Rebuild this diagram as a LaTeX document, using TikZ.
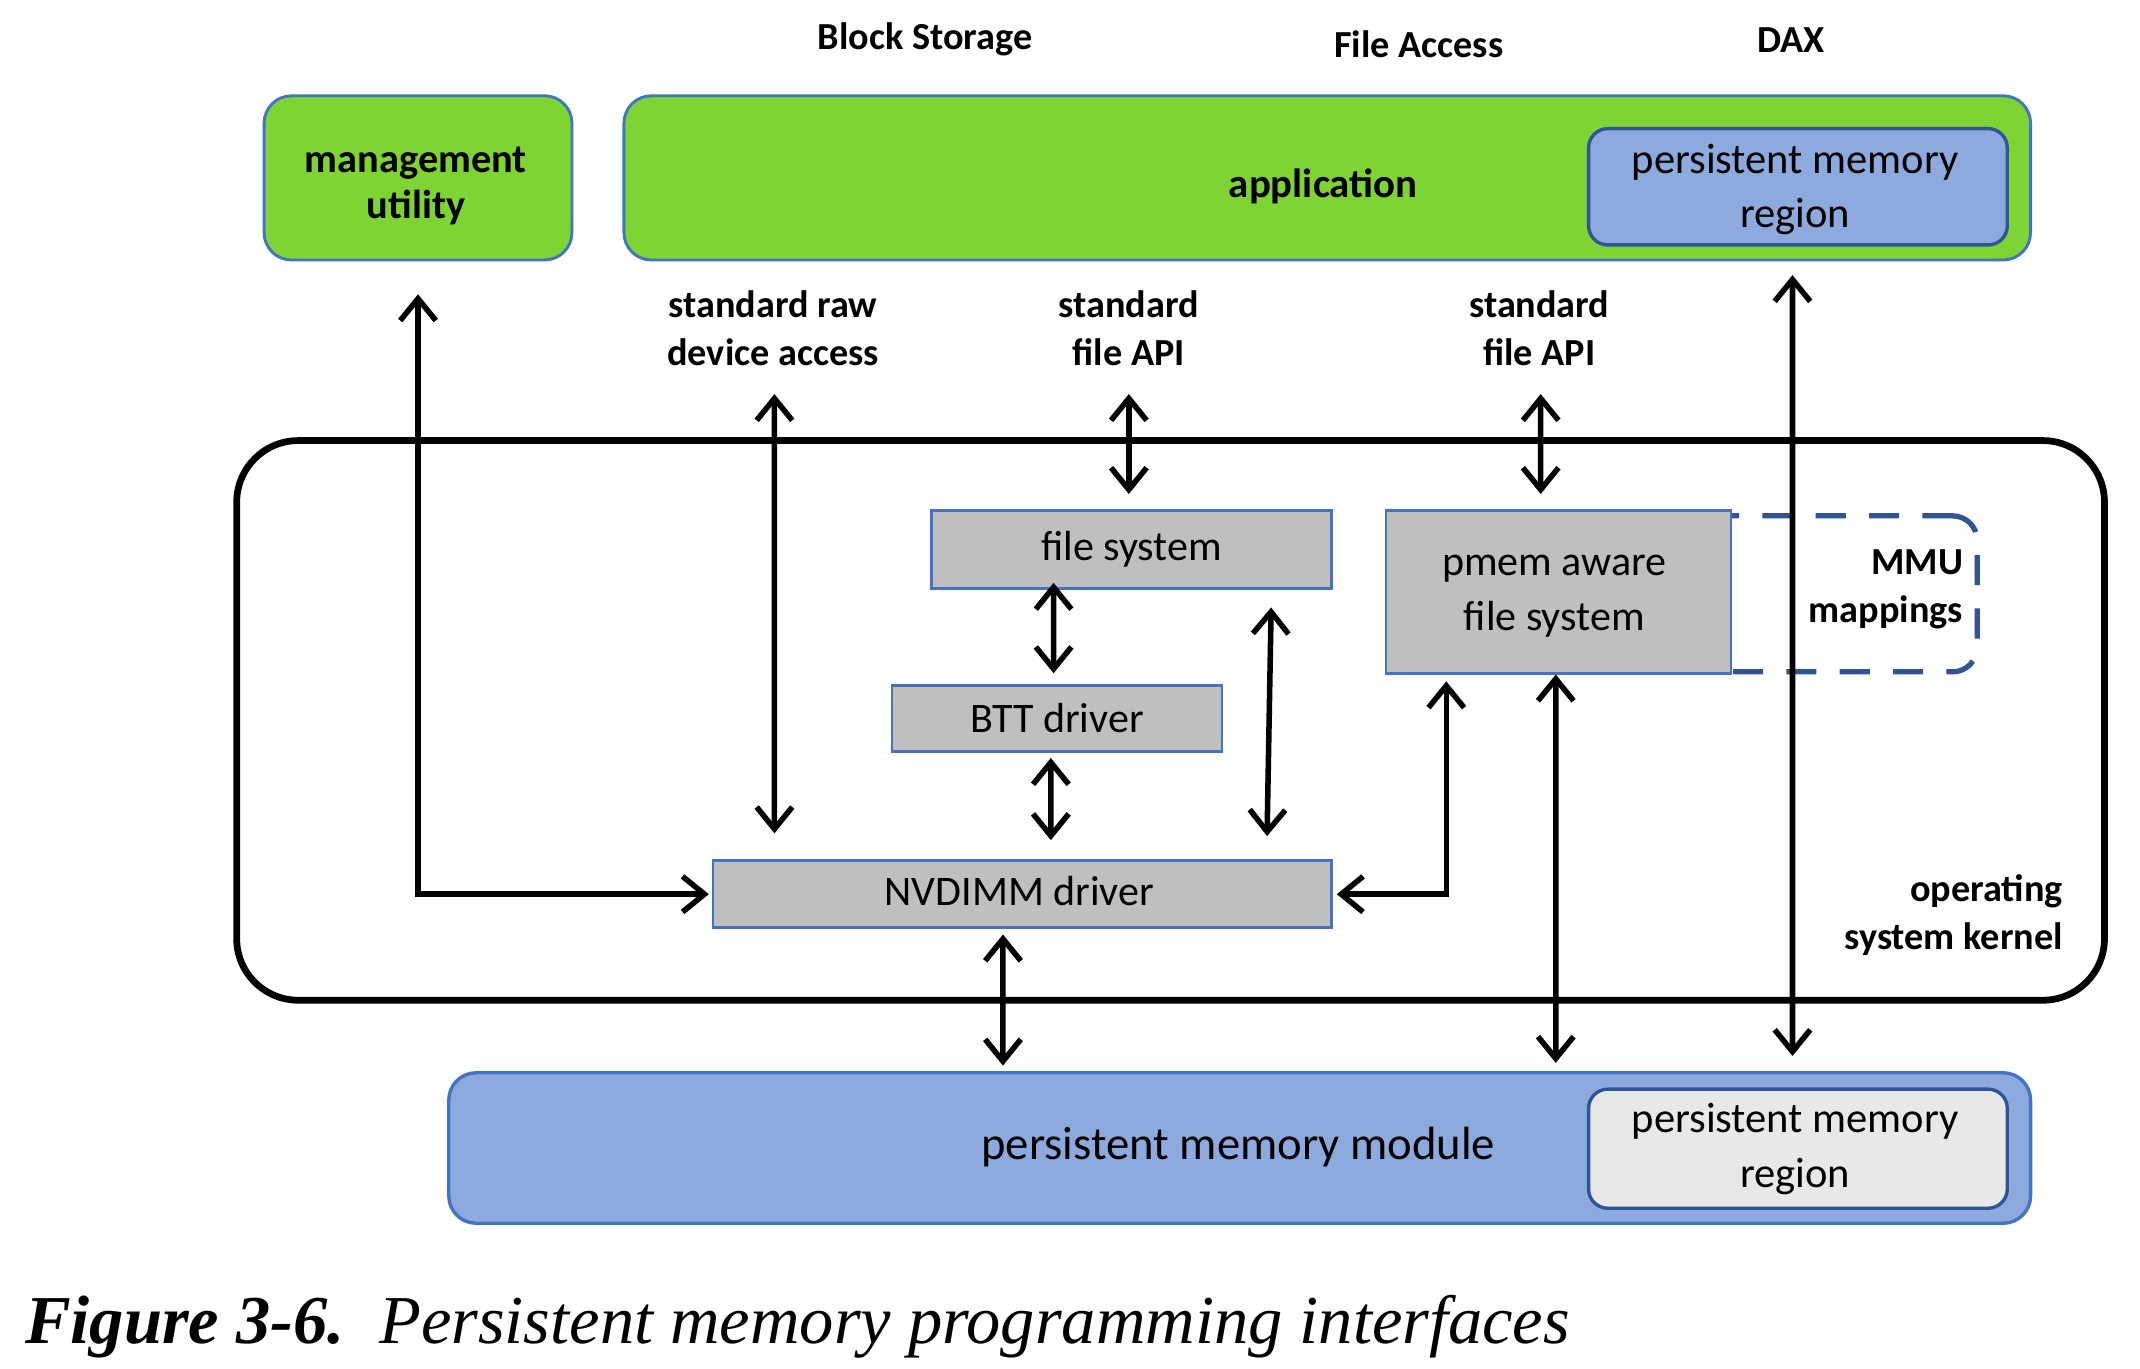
\documentclass[tikz,border=0pt]{standalone}
\usepackage{fontspec}
\setmainfont{Carlito}
\newfontfamily\capfont{Liberation Serif}
\usetikzlibrary{arrows.meta}
\definecolor{appgreen}{RGB}{126,212,50}
\definecolor{bordblue}{RGB}{68,114,196}
\definecolor{lightblue}{RGB}{141,170,223}
\definecolor{darkblue}{RGB}{47,85,151}
\definecolor{boxgray}{RGB}{191,191,191}
\definecolor{reggray}{RGB}{232,232,232}
\tikzset{
  grn/.style={draw=bordblue, line width=1.2pt, fill=appgreen, rounded corners=4mm,
    inner sep=0pt, align=center, minimum height=24mm},
  bigbold/.style={inner sep=0pt, align=center, font=\bfseries\fontsize{16.8}{19.4}\selectfont},
  region/.style={draw=darkblue, line width=1.4pt, rounded corners=2.8mm,
    inner sep=0pt, align=center, minimum width=61.2mm,
    font=\fontsize{17.7}{22.8}\selectfont},
  gbox/.style={draw=bordblue, line width=1.1pt, fill=boxgray, inner sep=0pt,
    align=center, font=\fontsize{17.5}{22.8}\selectfont},
  lbl/.style={inner sep=0pt, align=center, font=\bfseries\fontsize{15.9}{19.9}\selectfont},
  osbox/.style={draw=black, line width=2.8pt, rounded corners=9mm, inner sep=0pt},
  mmubox/.style={draw=darkblue, line width=2.2pt, dash pattern=on 4.4mm off 3.4mm,
    rounded corners=3.6mm, inner sep=0pt},
  conn/.style={line width=2.3pt, draw=black},
  dbl/.style={conn, {Straight Barb[length=3.2mm,width=5.2mm]}-{Straight Barb[length=3.2mm,width=5.2mm]}}
}
\begin{document}
\begin{tikzpicture}[x=0.2mm,y=-0.2mm]
\useasboundingbox (0,0) rectangle (1564,1000);
\fill[white] (0,0) rectangle (1564,1000);

% headings
\node[lbl] (blk) at (676,29) {Block Storage};
\node[lbl] (fa) at (1037,32) {File Access};
\node[lbl] (dax) at (1309,29) {DAX};

% top boxes
\node[grn, minimum width=45mm] (mgmt) at (305.5,130) {};
\node[bigbold] (mgmttxt) at (304,136) {management\\utility};
\node[grn, minimum width=205.6mm] (app) at (970,130) {};
\node[bigbold, font=\bfseries\fontsize{17}{20}\selectfont] (apptxt) at (967,136) {application};
\node[region, fill=lightblue, minimum height=17mm] (topreg) at (1314,136.5) {};
\node[inner sep=0pt, align=center, font=\fontsize{17.7}{22.8}\selectfont] (topregtxt) at (1312,138.5) {persistent memory\\region};

% interface labels
\node[lbl] (rawlbl) at (565,240) {standard raw\\device access};
\node[lbl] (api1) at (825,240) {standard\\file API};
\node[lbl] (api2) at (1125,240) {standard\\file API};
\coordinate (rawtop) at (566,288);
\coordinate (api1top) at (825,288);
\coordinate (api2top) at (1126,288);

% kernel
\node[osbox, minimum width=273mm, minimum height=81.8mm] (os) at (855.5,526.5) {};
\node[lbl, anchor=east, align=right] (ostxt) at (1508,669) {operating\\system kernel};

\node[mmubox, minimum width=41mm, minimum height=22.8mm] (mmu) at (1342.5,434) {};
\node[lbl, anchor=east, align=right] (mmutxt) at (1435,431) {MMU\\mappings};

\node[gbox, minimum width=58.4mm, minimum height=11.4mm] (fs) at (827,401.5) {file system};
\node[gbox, minimum width=48.2mm, minimum height=9.6mm] (btt) at (772.5,525) {BTT driver};
\node[gbox, minimum width=90.4mm, minimum height=9.8mm] (nv) at (747,653.5) {};
\node[inner sep=0pt, font=\fontsize{17.5}{22.8}\selectfont] (nvtxt) at (745,651) {NVDIMM driver};
\node[gbox, minimum width=50.4mm, minimum height=23.8mm] (pmemfs) at (1139,432.5) {};
\node[inner sep=0pt, align=center, font=\fontsize{17.5}{22.8}\selectfont] (pmemfstxt) at (1136,435.5) {pmem aware\\file system};

% module
\node[draw=bordblue, line width=1.4pt, fill=lightblue, rounded corners=4mm, inner sep=0pt,
  minimum width=231.2mm, minimum height=22mm] (pmm) at (906,839) {};
\node[inner sep=0pt, font=\fontsize{19.4}{23}\selectfont] (pmmtxt) at (905,838) {persistent memory module};
\node[region, fill=reggray, minimum height=17.4mm] (botreg) at (1314,839.5) {};
\node[inner sep=0pt, align=center, font=\fontsize{17.7}{22.8}\selectfont] (botregtxt) at (1312,840) {persistent memory\\region};

% connectors
\draw[dbl] ([yshift=-4.8mm]mgmt.south) |- ([xshift=-0.4mm]nv.west);
\draw[dbl] (rawtop) -- ([xshift=-36.2mm,yshift=3.8mm]nv.north);
\draw[dbl] (api1top) -- ([xshift=-0.4mm,yshift=2.2mm]fs.north);
\draw[dbl] (api2top) -- ([xshift=-2.6mm,yshift=2.2mm]pmemfs.north);
\draw[dbl] ([xshift=-11.4mm,yshift=1mm]fs.south) -- ([xshift=-0.5mm,yshift=1.6mm]btt.north);
\draw[dbl] ([xshift=-0.9mm,yshift=-0.8mm]btt.south) -- ([xshift=4.2mm,yshift=2.8mm]nv.north);
\draw[dbl] ([xshift=20.4mm,yshift=-2.6mm]fs.south) -- ([xshift=35.8mm,yshift=3.4mm]nv.north);
\draw[dbl] ([xshift=-16.4mm,yshift=-1mm]pmemfs.south) |- ([xshift=0.6mm]nv.east);
\draw[dbl] ([xshift=-0.4mm]pmemfs.south) -- ([xshift=46.2mm,yshift=1.2mm]pmm.north);
\draw[dbl] ([xshift=68mm,yshift=-2mm]app.south) -- ([xshift=80.8mm,yshift=2.2mm]pmm.north);
\draw[dbl] ([xshift=-2.8mm,yshift=-0.8mm]nv.south) -- ([xshift=-34.6mm,yshift=0.8mm]pmm.north);

% caption
\node[anchor=base west, inner sep=0pt, font=\capfont\fontsize{28.5}{34}\selectfont] (cap) at (18,982)
  {\textbf{\textit{Figure 3-6.}}\hspace{0.5em}\textit{Persistent memory programming interfaces}};
\end{tikzpicture}
\end{document}
